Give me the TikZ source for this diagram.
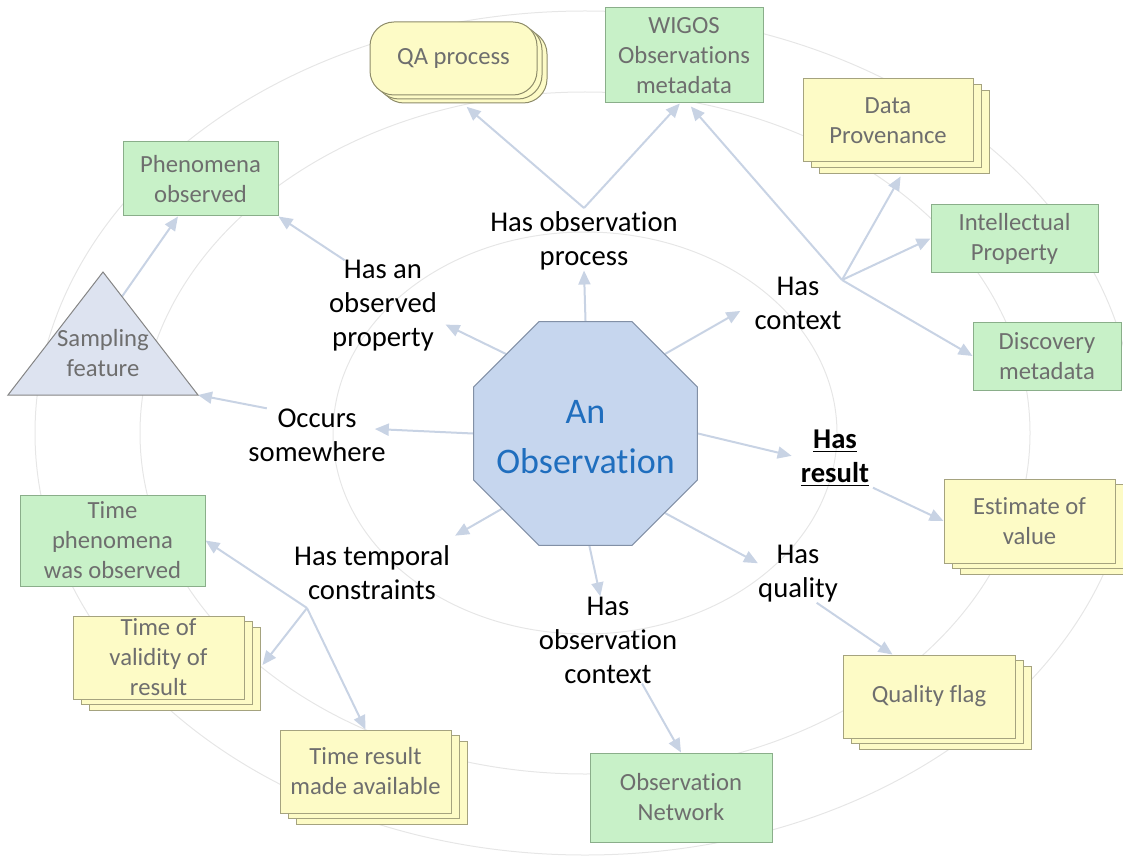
\documentclass[tikz,border=0pt]{standalone}
\usepackage{fontspec}
\setmainfont{Carlito}[Ligatures=NoCommon]
\usetikzlibrary{shapes.geometric,shadows,arrows.meta,calc}
\definecolor{gfill}{HTML}{C8F1C8}
\definecolor{gline}{HTML}{8AAE8A}
\definecolor{yfill}{HTML}{FDFBC6}
\definecolor{yline}{HTML}{A5A37F}
\definecolor{qline}{HTML}{8E8C6A}
\definecolor{boxtext}{HTML}{6E6E6E}
\definecolor{ofill}{HTML}{C6D6EE}
\definecolor{oline}{HTML}{8290A6}
\definecolor{otext}{HTML}{1F6EBE}
\definecolor{tfill}{HTML}{DDE3F0}
\definecolor{tline}{HTML}{858585}
\definecolor{arrc}{HTML}{C8D3E4}
\definecolor{ringc}{HTML}{E6E6E6}
\newcommand{\lblfont}{\fontsize{21.5}{25.5}\selectfont}
\newcommand{\boxfont}{\fontsize{18.5}{22.5}\selectfont}
\newcommand{\octfont}{\fontsize{27}{37}\selectfont}
\pgfdeclarelayer{bg}
\pgfsetlayers{bg,main}
\begin{document}
\begin{tikzpicture}[x=0.75pt,y=-0.75pt,
  boxbase/.style={align=center, inner sep=0pt, font=\boxfont, text=boxtext, line width=0.75pt},
  gbox/.style={boxbase, draw=gline, fill=gfill},
  ybox/.style={boxbase, draw=yline, fill=yfill},
  ystack/.style={ybox,
     copy shadow={draw=yline, fill=yfill, line width=0.75pt, shadow xshift=12pt, shadow yshift=-8.5pt},
     copy shadow={draw=yline, fill=yfill, line width=0.75pt, shadow xshift=6pt, shadow yshift=-4.25pt}},
  qstack/.style={boxbase, draw=qline, fill=yfill, rounded corners=18pt,
     copy shadow={draw=qline, fill=yfill, line width=0.75pt, shadow xshift=7.5pt, shadow yshift=-6pt},
     copy shadow={draw=qline, fill=yfill, line width=0.75pt, shadow xshift=3.75pt, shadow yshift=-3pt}},
  lbl/.style={align=center, inner sep=0pt, font=\lblfont, text=black},
  arr/.style={draw=arrc, line width=1.5pt, -{Triangle[length=10.5pt,width=9pt]}},
  ring/.style={draw=ringc, line width=0.75pt},
]
\useasboundingbox (0,0) rectangle (1123,859);

% central node
\node[regular polygon, regular polygon sides=8, minimum size=181.8pt, inner sep=0pt,
      draw=oline, fill=ofill, line width=0.75pt] (obs) at (585.5,433.5) {};
\node[font=\octfont, text=otext, align=center, inner sep=0pt] (obstext) at (585.5,437) {An\\Observation};

% boxes
\node[qstack, minimum width=125.25pt, minimum height=54.75pt] (qa) at (453.5,58.5) {QA process};
\node[gbox, minimum width=118.5pt, minimum height=71.25pt] (wig) at (684,55.5) {WIGOS\\Observations\\metadata};
\node[gbox, minimum width=116.25pt, minimum height=55.5pt] (phen) at (200.5,179) {Phenomena\\observed};
\node[ystack, minimum width=127.5pt, minimum height=62.25pt] (dp) at (888,120.5) {Data\\Provenance};
\node[gbox, minimum width=125.25pt, minimum height=50.25pt] (ip) at (1014.5,238.5) {Intellectual\\Property};
\node[gbox, minimum width=111pt, minimum height=51pt] (disc) at (1047,356) {Discovery\\metadata};
\node[ystack, minimum width=128.25pt, minimum height=63pt] (est) at (1029.5,521) {Estimate of\\value};
\node[ystack, minimum width=129pt, minimum height=62.25pt] (qf) at (929,696.5) {Quality flag};
\node[gbox, minimum width=136.5pt, minimum height=66.75pt] (net) at (681,797.5) {Observation\\Network};
\node[ystack, minimum width=128.25pt, minimum height=62.25pt] (tr) at (365.5,771.5) {Time result\\made available};
\node[ystack, minimum width=128.25pt, minimum height=62.25pt] (tv) at (158.5,657.5) {Time of\\validity of\\result};
\node[gbox, minimum width=138.75pt, minimum height=68.25pt] (tph) at (112.5,540.5) {Time\\phenomena\\was observed};

% sampling feature triangle
\coordinate (triT) at (103,272);
\coordinate (triR) at (198,395);
\coordinate (triL) at (8,395);
\draw[draw=tline, fill=tfill, line width=0.75pt] (triT) -- (triR) -- (triL) -- cycle;
\node[boxbase] (samp) at (103,353) {Sampling\\feature};
\coordinate (triE) at ($(triT)!0.2!(triR)$);

% relation labels
\node[lbl] (hop) at (584,241) {Has observation\\process};
\node[lbl] (prop) at (383,306) {Has an\\observed\\property};
\node[lbl] (occ) at (317,435) {Occurs\\somewhere};
\node[lbl] (temp) at (372,573) {Has temporal\\constraints};
\node[lbl] (oc) at (608,640) {Has\\observation\\context};
\node[lbl] (qual) at (798,574) {Has\\quality};
\node[lbl, font=\lblfont\bfseries] (res) at (835,458) {\underline{Has}\\\underline{result}};
\node[lbl] (ctx) at (798,303) {Has\\context};

% branch points
\coordinate (b1) at (584,208);
\coordinate (b2) at (842,280);
\coordinate (b3) at (307,608);

\begin{pgfonlayer}{bg}
\draw[ring] (585,433) ellipse [x radius=189pt, y radius=150.75pt];
\draw[ring] (585,433) ellipse [x radius=333.75pt, y radius=255.75pt];
\draw[ring] (585,433) ellipse [x radius=412.5pt, y radius=316.5pt];

\draw[arr] (obs.north) -- (hop.south);
\draw[arr, shorten >=13pt] (b1) -- (qa.south);
\draw[arr] (b1) -- (wig.-95);
\draw[arr, shorten >=12pt] (obs.45) -- (ctx.west);
\draw[arr, shorten >=3pt] (b2) -- (wig.-85);
\draw[arr, shorten >=12pt] (b2) -- (dp.-64);
\draw[arr] (b2) -- (ip.west);
\draw[arr] (b2) -- (disc.west);
\draw[arr, shorten >=7pt] (obs.east) -- (res.west);
\draw[arr, shorten <=3pt] (res.south east) -- (est.west);
\draw[arr] (obs.-45) -- (qual.165);
\draw[arr] (qual.-57) -- (qf.131);
\draw[arr] (obs.-88) -- (oc.100);
\draw[arr] (oc.-52) -- (net.north);
\draw[arr] (obs.222) -- ([shift={(5,-10)}]temp.north east);
\draw[arr] (b3) -- (tph.east);
\draw[arr] (b3) -- ([shift={(18,7.5)}]tv.east);
\draw[arr] (b3) -- (tr.north);
\draw[arr] (obs.west) -- ([shift={(-11,-6)}]occ.east);
\draw[arr] (occ.152) -- (triR);
\draw[arr] (triE) -- (phen.-121);
\draw[arr, shorten >=7pt] (obs.135) -- (prop.-15);
\draw[arr] (prop.130) -- (phen.south east);
\end{pgfonlayer}
\end{tikzpicture}
\end{document}
